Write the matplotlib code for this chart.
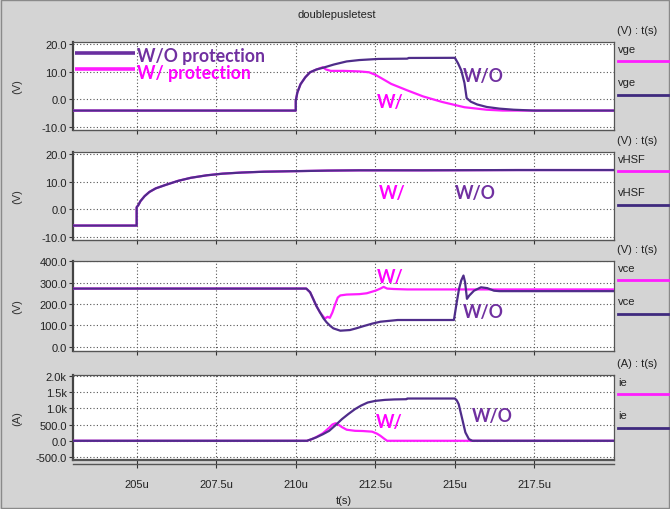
import matplotlib
matplotlib.use("Agg")
import matplotlib.pyplot as plt
from matplotlib.lines import Line2D
from matplotlib.patches import Rectangle

# ---------------- data (time in microseconds) ----------------
vge_wo_t = [203, 210.0, 210.0, 210.05, 210.15, 210.3, 210.45, 210.65, 210.85, 211.2, 211.6, 212.0,
            212.6, 213.5, 213.55, 215.0, 215.1, 215.2, 215.3, 215.37, 215.5, 215.7, 216.0, 216.4,
            216.85, 217.5, 220]
vge_wo = [-4, -4, -0.5, 2.5, 5.5, 8, 9.8, 10.8, 11.4, 12.6, 13.7, 14.2, 14.6, 14.7, 14.95, 15, 13,
          10.5, 6, 0.5, -0.8, -1.8, -2.7, -3.3, -3.7, -4, -4]
vge_w_t = [203, 210.0, 210.0, 210.05, 210.15, 210.3, 210.45, 210.65, 210.85, 210.95, 211.1, 211.5,
           212.0, 212.3, 212.5, 212.7, 213.0, 213.5, 214.0, 214.6, 215.3, 216.0, 216.5, 220]
vge_w = [-4, -4, -0.5, 2.5, 5.5, 8, 9.8, 10.8, 11.6, 10.8, 10.3, 10.3, 10.1, 9.8, 8.9, 7.6, 5.6,
         3.3, 1.1, -0.9, -2.8, -3.7, -4, -4]

vhsf_t = [203, 205, 205, 205.05, 205.12, 205.25, 205.4, 205.6, 205.9, 206.3, 206.7, 207.2, 207.7,
          208.3, 209, 210, 211, 212, 214, 217, 220]
vhsf_wo = [-5.8, -5.8, 0.8, 1.5, 3, 4.8, 6.3, 7.6, 8.8, 10.3, 11.4, 12.3, 12.9, 13.3, 13.6, 13.8,
           14.0, 14.1, 14.1, 14.2, 14.2]
vhsf_w = [-5.8, -5.8, 0.8, 1.5, 3, 4.8, 6.3, 7.6, 8.8, 10.3, 11.4, 12.3, 12.9, 13.3, 13.6, 13.8,
          14.0, 14.1, 14.1, 14.2, 14.2]

vce_wo_t = [203, 210.33, 210.45, 210.55, 210.65, 210.76, 210.87, 210.97, 211.08, 211.18, 211.4,
            211.7, 211.9, 212.12, 212.4, 212.66, 213.0, 213.2, 214.97, 215.05, 215.13, 215.2,
            215.27, 215.32, 215.38, 215.45, 215.6, 215.82, 216.02, 216.23, 216.4, 220]
vce_wo = [272, 272, 255, 223, 190, 161, 133, 114, 98, 86, 75, 78, 86, 96, 108, 117, 122, 125, 125,
          200, 270, 310, 333, 302, 224, 239, 262, 278, 274, 262, 260, 260]
vce_w_t = [203, 210.33, 210.45, 210.55, 210.65, 210.76, 210.87, 210.92, 211.0, 211.07, 211.15,
           211.23, 211.32, 211.4, 211.6, 212.0, 212.23, 212.5, 212.66, 212.76, 212.87, 213.07,
           213.5, 220]
vce_w = [272, 272, 255, 223, 190, 161, 140, 132, 140, 135, 160, 195, 230, 240, 244, 246, 250, 262,
         272, 280, 272, 270, 268, 268]

ie_wo_t = [203, 210.35, 210.5, 210.64, 210.85, 211.05, 211.25, 211.45, 211.65, 211.86, 212.05,
           212.26, 212.5, 212.8, 213.1, 213.48, 213.5, 215.0, 215.06, 215.12, 215.22, 215.33,
           215.44, 215.55, 220]
ie_wo = [0, 0, 50, 104, 200, 306, 480, 664, 820, 971, 1080, 1175, 1225, 1256, 1270, 1277, 1298,
         1298, 1240, 1124, 716, 257, 52, 0, 0]
ie_w_t = [203, 210.35, 210.5, 210.64, 210.85, 211.05, 211.15, 211.25, 211.35, 211.45, 211.6,
          211.86, 212.1, 212.4, 212.55, 212.66, 212.77, 212.87, 220]
ie_w = [0, 0, 50, 110, 230, 400, 500, 540, 490, 420, 340, 306, 300, 280, 220, 153, 70, 0, 0]

x_ticks = [205, 207.5, 210, 212.5, 215, 217.5]
x_labels = ["205u", "207.5u", "210u", "212.5u", "215u", "217.5u"]
v_ticks = [20, 10, 0, -10]
v_labels = ["20.0", "10.0", "0.0", "-10.0"]
vce_ticks = [400, 300, 200, 100, 0]
vce_labels = ["400.0", "300.0", "200.0", "100.0", "0.0"]
ie_ticks = [2000, 1500, 1000, 500, 0, -500]
ie_labels = ["2.0k", "1.5k", "1.0k", "500.0", "0.0", "-500.0"]
signal_names = ["vge", "vHSF", "vce", "ie"]
units = ["(V) : t(s)", "(V) : t(s)", "(V) : t(s)", "(A) : t(s)"]
ylabels = ["(V)", "(V)", "(V)", "(A)"]

# ---------------- style ----------------
BG = "#d4d4d4"
MAG = "#ff1dff"
PUR = "#4f2d8a"
TXT_PUR = "#7030a0"
TXT_MAG = "#ff00ff"
W, H = 670, 510
plt.rcParams["font.family"] = ["Liberation Sans", "DejaVu Sans"]
ann_font = dict(family=["Lato", "DejaVu Sans"], fontweight="bold", fontsize=12.7)

fig = plt.figure(figsize=(6.7, 5.1), dpi=100, facecolor=BG)
fig.patches.append(Rectangle((0.002, 0.002), 0.996, 0.996, transform=fig.transFigure,
                             fill=False, edgecolor="#8a8a8a", lw=1))

left_px, right_px = 73, 614
panels_px = [(43, 131), (153, 241), (262, 352), (376, 461)]
ylims = [(-11.0, 20.7), (-11.0, 20.7), (-20, 401), (-590, 2020)]
yticks = [(v_ticks, v_labels), (v_ticks, v_labels), (vce_ticks, vce_labels), (ie_ticks, ie_labels)]
series = [
    ((vge_w_t, vge_w), (vge_wo_t, vge_wo)),
    ((vhsf_t, vhsf_w), (vhsf_t, vhsf_wo)),
    ((vce_w_t, vce_w), (vce_wo_t, vce_wo)),
    ((ie_w_t, ie_w), (ie_wo_t, ie_wo)),
]

axes = []
for i, (top, bot) in enumerate(panels_px):
    ax = fig.add_axes([left_px / W, 1 - bot / H, (right_px - left_px) / W, (bot - top) / H])
    ax.set_facecolor("white")
    (tw, yw), (two, ywo) = series[i]
    ax.plot(tw, yw, color=MAG, lw=1.6, zorder=3)
    ax.plot(two, ywo, color=PUR, lw=1.6, zorder=4)
    ax.set_xlim(203, 220)
    ax.set_ylim(*ylims[i])
    ax.set_yticks(yticks[i][0])
    ax.set_yticklabels(yticks[i][1])
    ax.set_xticks(x_ticks)
    if i == 3:
        ax.set_xticklabels(x_labels)
    else:
        ax.set_xticklabels([])
    ax.grid(True, color="#555555", lw=0.8, linestyle=(0, (1, 2)))
    ax.tick_params(axis="both", direction="out", length=3, width=0.8, color="#333333",
                   labelsize=8, labelcolor="#222222", pad=1.5)
    if i == 3:
        ax.tick_params(axis="x", length=6, pad=8)
    for s in ax.spines.values():
        s.set_color("#555555")
        s.set_linewidth(0.9)
    ax.spines["left"].set_linewidth(1.6)
    ax.spines["left"].set_color("#444444")
    ax.spines["bottom"].set_linewidth(1.6 if i == 3 else 1.0)
    fig.text(17 / W, 1 - ((top + bot) / 2) / H, ylabels[i], rotation=90, ha="center",
             va="center", fontsize=8, color="#333333")
    # right-side legend
    fig.text(637 / W, 1 - (top - 12) / H, units[i], ha="center", va="center", fontsize=8,
             color="#222222")
    fig.text(618 / W, 1 - (top + 7) / H, signal_names[i], ha="left", va="center", fontsize=8,
             color="#222222")
    fig.text(618 / W, 1 - (top + 40) / H, signal_names[i], ha="left", va="center", fontsize=8,
             color="#222222")
    fig.lines.append(Line2D([618 / W, 668 / W], [1 - (top + 19) / H] * 2, transform=fig.transFigure,
                            color=MAG, lw=2))
    fig.lines.append(Line2D([618 / W, 668 / W], [1 - (top + 53) / H] * 2, transform=fig.transFigure,
                            color="#3f2a7e", lw=2))
    axes.append(ax)

ax1, ax2, ax3, ax4 = axes
ax4.set_xlabel("t(s)", fontsize=8, color="#222222", labelpad=4)
# double ruler line under the last panel
fig.lines.append(Line2D([left_px / W, right_px / W], [1 - 464.5 / H] * 2, transform=fig.transFigure,
                        color="#555555", lw=1.0))

# top-left legend inside panel 1
ax1.plot([203.05, 204.95], [16.8, 16.8], color="#6a2fa0", lw=2.6, zorder=5, solid_capstyle="butt")
ax1.plot([203.05, 204.95], [10.8, 10.8], color=MAG, lw=2.6, zorder=5, solid_capstyle="butt")
ax1.text(205.0, 16.0, "W/O protection", color=TXT_PUR, ha="left", va="center", zorder=6, **ann_font)
ax1.text(205.0, 9.6, "W/ protection", color=TXT_MAG, ha="left", va="center", zorder=6, **ann_font)

# annotations
ax1.text(215.25, 8.5, "W/O", color=TXT_PUR, ha="left", va="center", zorder=6, **ann_font)
ax1.text(212.55, -0.6, "W/", color=TXT_MAG, ha="left", va="center", zorder=6, **ann_font)
ax2.text(212.6, 6.2, "W/", color=TXT_MAG, ha="left", va="center", zorder=6, **ann_font)
ax2.text(215.0, 6.2, "W/O", color=TXT_PUR, ha="left", va="center", zorder=6, **ann_font)
ax3.text(212.55, 327, "W/", color=TXT_MAG, ha="left", va="center", zorder=6, **ann_font)
ax3.text(215.25, 165, "W/O", color=TXT_PUR, ha="left", va="center", zorder=6, **ann_font)
ax4.text(212.51, 588, "W/", color=TXT_MAG, ha="left", va="center", zorder=6, **ann_font)
ax4.text(215.52, 772, "W/O", color=TXT_PUR, ha="left", va="center", zorder=6, **ann_font)

fig.text(337 / W, 1 - 15 / H, "doublepusletest", ha="center", va="center", fontsize=8,
         color="#222222")

fig.savefig("out.png", dpi=100, facecolor=BG)
